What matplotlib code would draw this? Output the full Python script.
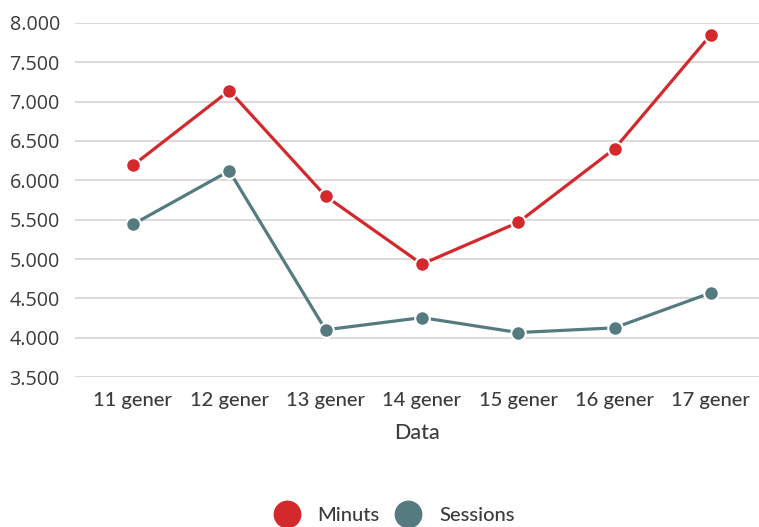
import matplotlib
matplotlib.use("Agg")
import matplotlib.pyplot as plt
from matplotlib.lines import Line2D
from matplotlib.ticker import FuncFormatter

categories = ["11 gener", "12 gener", "13 gener", "14 gener", "15 gener", "16 gener", "17 gener"]
minuts = [6190, 7140, 5800, 4935, 5465, 6400, 7850]
sessions = [5440, 6120, 4100, 4255, 4065, 4125, 4570]
yticks = [3500, 4000, 4500, 5000, 5500, 6000, 6500, 7000, 7500, 8000]

red = "#d3292c"
teal = "#557b80"
txt = "#3c3c3c"

fig = plt.figure(figsize=(7.59, 5.27), dpi=100)
ax = fig.add_axes([0.099, 0.2846, 0.901, 0.6718])

x = list(range(len(categories)))
for vals, c in [(minuts, red), (sessions, teal)]:
    ax.plot(x, vals, color=c, lw=2.3, marker="o", ms=10.5, mfc=c,
            mec="white", mew=1.5, zorder=3)

ax.set_ylim(3500, 8000)
ax.set_xlim(-0.6, 6.5)
ax.set_yticks(yticks)
ax.yaxis.set_major_formatter(FuncFormatter(lambda v, p: f"{int(v):,}".replace(",", ".")))
ax.set_xticks(x)
ax.set_xticklabels(categories, family="Lato", fontsize=14.5, color=txt, weight="medium")
for lab in ax.get_yticklabels():
    lab.set_family("Open Sans")
    lab.set_fontsize(14.2)
    lab.set_color(txt)
ax.tick_params(length=0)
ax.tick_params(axis="y", pad=11)
ax.tick_params(axis="x", pad=11)
ax.grid(axis="y", color="#ddd5d5", lw=1.3)
ax.set_axisbelow(True)
for s in ax.spines.values():
    s.set_visible(False)
ax.set_xlabel("Data", family="Lato", fontsize=15.5, color=txt, labelpad=10, weight="medium")

handles = [Line2D([], [], ls="none", marker="o", ms=19, color=red, label="Minuts"),
           Line2D([], [], ls="none", marker="o", ms=19, color=teal, label="Sessions")]
fig.legend(handles=handles, loc="center", bbox_to_anchor=(0.52, 0.022), ncol=2,
           frameon=False, prop={"family": "Lato", "size": 14.5, "weight": "medium"},
           labelcolor=txt, handlelength=1.2, handletextpad=0.95, columnspacing=0.8)

fig.savefig("out.png", dpi=100, facecolor="white")
